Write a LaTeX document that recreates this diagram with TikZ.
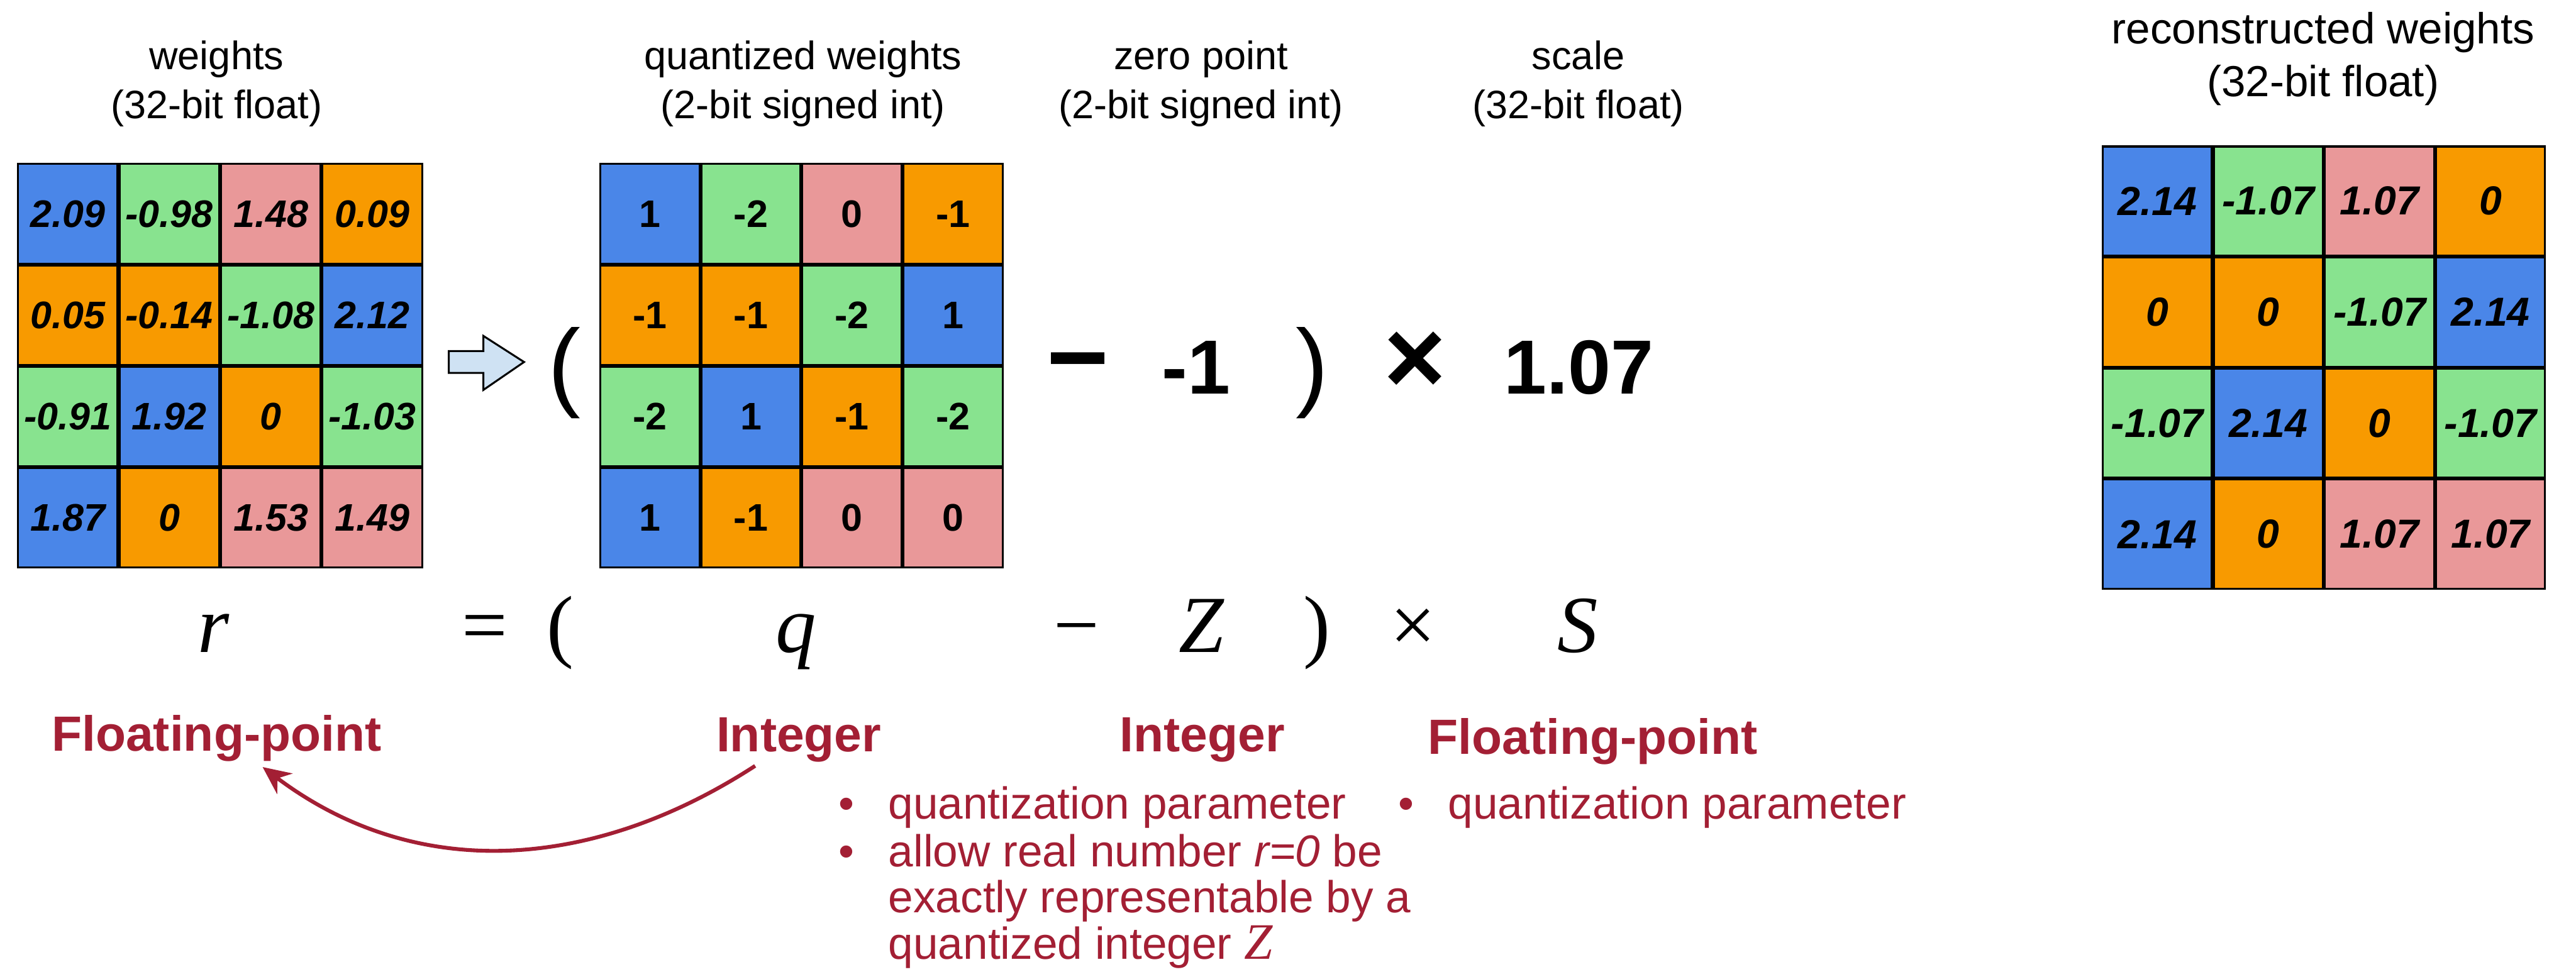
\documentclass[tikz,border=0pt]{standalone}
\usepackage{fontspec}
\setmainfont{Liberation Sans}
\newfontfamily\eqfont{Liberation Serif}
\usetikzlibrary{
  positioning,
  arrows.meta,
  matrix
}
\usepackage{xcolor}
\definecolor{wblue}{HTML}{4A86E8}
\definecolor{wgreen}{HTML}{88E38F}
\definecolor{wpink}{HTML}{E99899}
\definecolor{worange}{HTML}{F89A00}
\definecolor{mitred}{HTML}{A31F34}
\definecolor{arrowfill}{HTML}{CFE2F3}

\begin{document}
\begin{tikzpicture}[
  cell/.style={draw, line width=0.9pt, inner sep=0pt, outer sep=0pt, anchor=center},
  blu/.style={fill=wblue},
  grn/.style={fill=wgreen},
  pnk/.style={fill=wpink},
  orn/.style={fill=worange},
  mat/.style={matrix of nodes, inner sep=0pt, outer sep=0pt, column sep=0pt,
              row sep=0pt, anchor=north west},
  hdr/.style={align=center, font=\fontsize{18.6}{22.8}\selectfont},
  bignum/.style={anchor=base, inner sep=0pt, font=\fontsize{36}{40}\selectfont\bfseries},
  bigop/.style={anchor=base, inner sep=0pt, font=\fontsize{50}{54}\selectfont\bfseries},
  paren/.style={anchor=base, inner sep=0pt, font=\fontsize{46}{50}\selectfont},
  eqn/.style={anchor=base, inner sep=0pt, font=\fontsize{38}{42}\selectfont\eqfont},
  lbl/.style={anchor=base, inner sep=0pt, text=mitred,
              font=\fontsize{23.2}{27}\selectfont\bfseries},
  note/.style={anchor=base west, inner sep=0pt, text=mitred,
               font=\fontsize{21}{21}\selectfont},
  arr/.style={-{Stealth[length=13pt, width=12pt]}, line width=1.8pt, mitred}
]
  \useasboundingbox[fill=white] (0,0) rectangle (42.47,-16.02);

  % Headers
  \node[hdr] (wlab) at (3.57,-1.38) {weights\\(32-bit float)};
  \node[hdr] (qlab) at (13.24,-1.38) {quantized weights\\(2-bit signed int)};
  \node[hdr] (zlab) at (19.80,-1.38) {zero point\\(2-bit signed int)};
  \node[hdr] (slab) at (26.02,-1.38) {scale\\(32-bit float)};
  \node[hdr, font=\fontsize{20.4}{25}\selectfont] (rlab) at (38.30,-0.97)
    {reconstructed weights\\(32-bit float)};

  % Weights (32-bit float)
  \matrix (w) [mat, nodes={cell, minimum width=1.6425cm, minimum height=1.64cm,
      font=\fontsize{18}{20}\selectfont\bfseries\itshape}] at (0.28,-2.69) {
    |[blu]| 2.09  & |[grn]| -0.98 & |[pnk]| 1.48  & |[orn]| 0.09  \\
    |[orn]| 0.05  & |[orn]| -0.14 & |[grn]| -1.08 & |[blu]| 2.12  \\
    |[grn]| -0.91 & |[blu]| 1.92  & |[orn]| 0     & |[grn]| -1.03 \\
    |[blu]| 1.87  & |[orn]| 0     & |[pnk]| 1.53  & |[pnk]| 1.49  \\
  };

  % Quantized weights (2-bit signed int)
  \matrix (q) [mat, nodes={cell, minimum width=1.635cm, minimum height=1.64cm,
      font=\fontsize{18}{20}\selectfont\bfseries}] at (9.88,-2.69) {
    |[blu]| 1  & |[grn]| -2 & |[pnk]| 0  & |[orn]| -1 \\
    |[orn]| -1 & |[orn]| -1 & |[grn]| -2 & |[blu]| 1  \\
    |[grn]| -2 & |[blu]| 1  & |[orn]| -1 & |[grn]| -2 \\
    |[blu]| 1  & |[orn]| -1 & |[pnk]| 0  & |[pnk]| 0  \\
  };

  % Reconstructed weights
  \matrix (rw) [mat, nodes={cell, minimum width=1.80cm, minimum height=1.80cm,
      font=\fontsize{19}{21}\selectfont\bfseries\itshape}] at (34.65,-2.40) {
    |[blu]| 2.14  & |[grn]| -1.07 & |[pnk]| 1.07  & |[orn]| 0     \\
    |[orn]| 0     & |[orn]| 0     & |[grn]| -1.07 & |[blu]| 2.14  \\
    |[grn]| -1.07 & |[blu]| 2.14  & |[orn]| 0     & |[grn]| -1.07 \\
    |[blu]| 2.14  & |[orn]| 0     & |[pnk]| 1.07  & |[pnk]| 1.07  \\
  };

  % Block arrow
  \draw[line width=0.9pt, fill=arrowfill] (7.40,-5.79) -- (7.97,-5.79) -- (7.97,-5.54)
    -- (8.64,-5.97) -- (7.97,-6.43) -- (7.97,-6.15) -- (7.40,-6.15) -- cycle;

  % Numeric row
  \node[paren] (lp1) at (9.31,-6.57) {(};
  \node[bigop] (mn1) at (17.77,-6.50) {−};
  \node[bignum] (zval) at (19.72,-6.50) {-1};
  \node[paren] (rp1) at (21.63,-6.57) {)};
  \node[bigop] (tm1) at (23.33,-6.50) {×};
  \node[bignum] (sval) at (26.03,-6.50) {1.07};

  % Symbolic row
  \node[eqn] (rsym) at (3.52,-10.76) {\itshape r};
  \node[eqn] (eqs) at (7.99,-10.76) {=};
  \node[eqn] (lp2) at (9.24,-10.76) {(};
  \node[eqn] (qsym) at (13.12,-10.76) {\itshape q};
  \node[eqn] (mn2) at (17.75,-10.76) {−};
  \node[eqn] (zsym) at (19.81,-10.76) {\itshape Z};
  \node[eqn] (rp2) at (21.71,-10.76) {)};
  \node[eqn] (tm2) at (23.30,-10.76) {×};
  \node[eqn] (ssym) at (26.01,-10.76) {\itshape S};

  % Type labels
  \node[lbl] (fp1) at (3.57,-12.39) {Floating-point};
  \node[lbl] (int1) at (13.17,-12.40) {Integer};
  \node[lbl] (int2) at (19.82,-12.40) {Integer};
  \node[lbl] (fp2) at (26.26,-12.44) {Floating-point};

  % Notes
  \node[note] (znote) at (13.82,-13.50) {\begin{tabular}[t]{@{}l@{\hspace{16pt}}l@{}}
    \textbullet & quantization parameter\\[1pt]
    \textbullet & allow real number \textit{r=0} be\\
                & exactly representable by a\\
                & quantized integer {\fontsize{24}{24}\selectfont\eqfont\itshape Z}
  \end{tabular}};
  \node[note] (snote) at (23.05,-13.50) {\begin{tabular}[t]{@{}l@{\hspace{16pt}}l@{}}
    \textbullet & quantization parameter
  \end{tabular}};

  % Conversion arrow
  \draw[arr] ([xshift=-0.72cm, yshift=-0.05cm]int1.south) to[out=-147, in=-37]
    ([xshift=0.76cm, yshift=-0.08cm]fp1.south);
\end{tikzpicture}
\end{document}
